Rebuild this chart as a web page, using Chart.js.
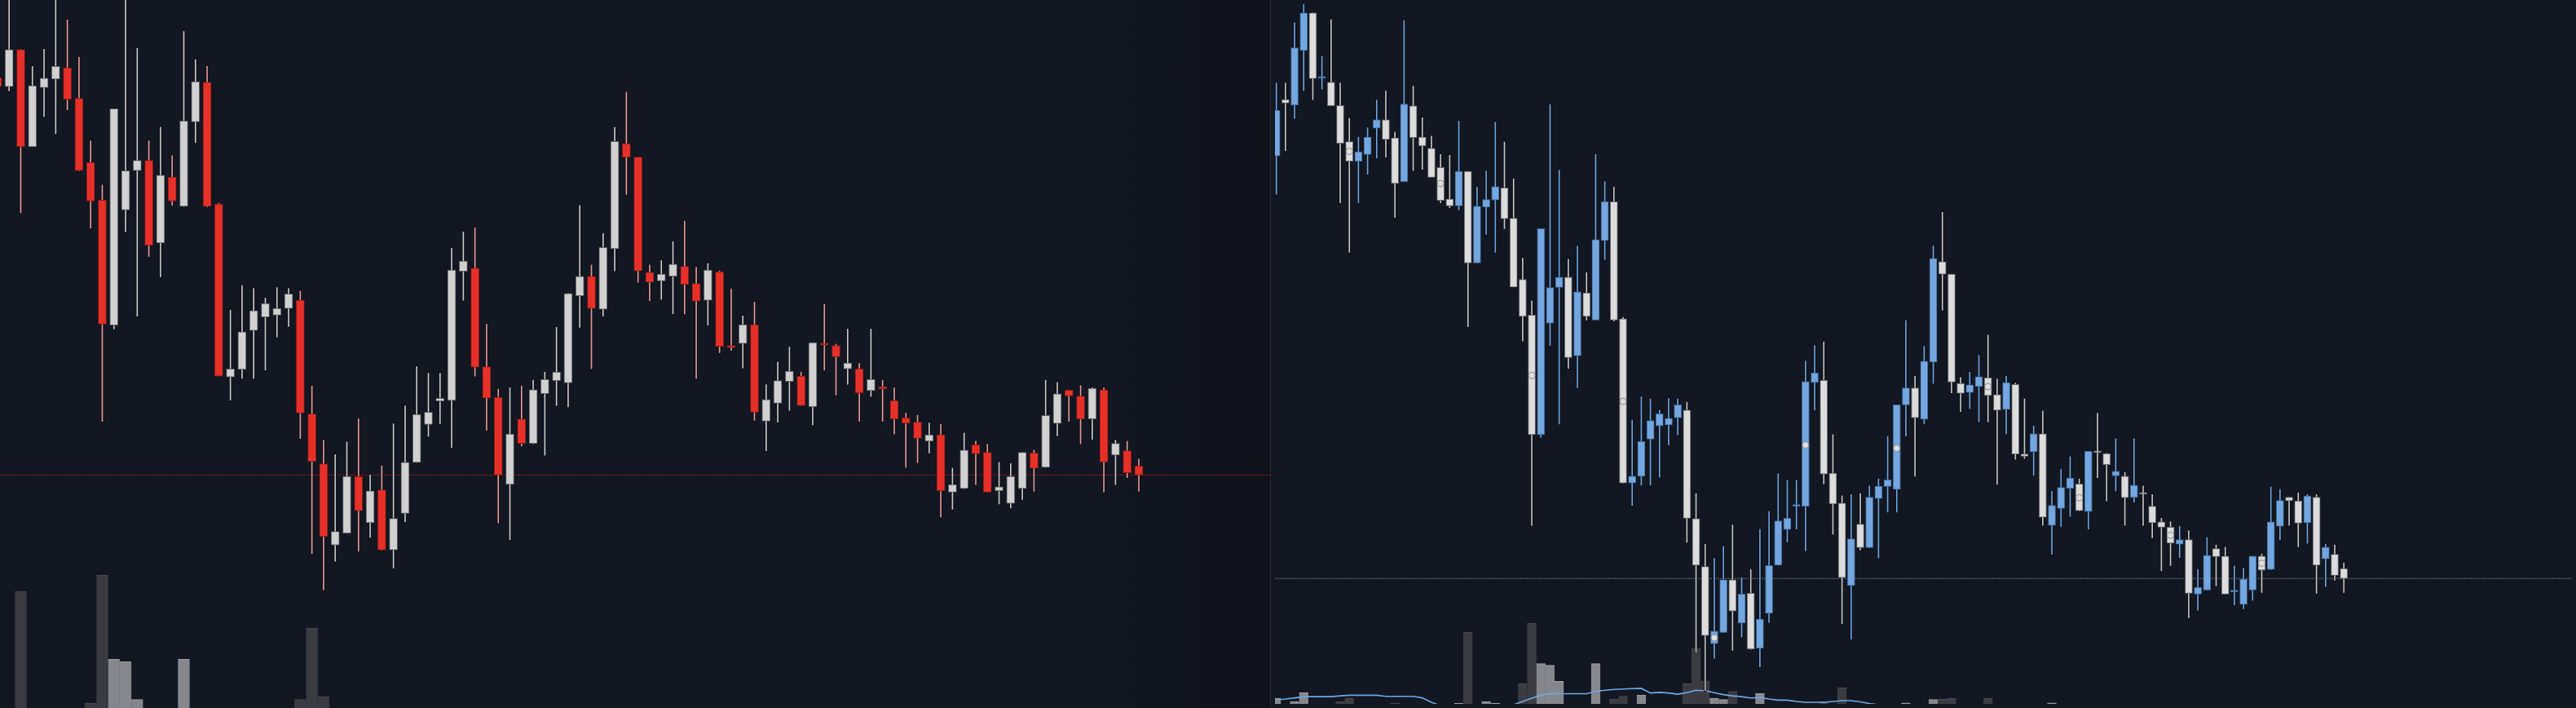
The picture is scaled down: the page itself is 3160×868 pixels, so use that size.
<!DOCTYPE html>
<html>
<head>
<meta charset="utf-8">
<script src="https://cdn.jsdelivr.net/npm/chart.js@4.4.1/dist/chart.umd.min.js"></script>
<style>
html,body{margin:0;padding:0;background:#131722;width:3160px;height:868px;overflow:hidden}
#leftPane{position:absolute;left:0;top:0;width:1558px;height:868px;background:linear-gradient(to right,#131722 0px,#131722 1380px,#0f121a 1558px)}
#divider{position:absolute;left:1558px;top:0;width:1px;height:868px;background:#262932}
#rightPane{position:absolute;left:1559px;top:0;width:1601px;height:868px;background:#131722}
canvas{display:block}
</style>
</head>
<body>
<div id="leftPane"><canvas id="leftChart" width="1558" height="868"></canvas></div>
<div id="divider"></div>
<div id="rightPane"><canvas id="rightChart" width="1601" height="868"></canvas></div>
<script>
// ---------------- LEFT PANEL DATA (candles 0..98) ----------------
const leftOpen = [1396,1376,1458,1243,1374,1393,1418,1350,1208,1125,
  848,1103,1190,1213,1030,1176,1111,1298,1386,1116,
  733,750,836,866,870,885,903,651,541,361,
  387,513,410,483,350,431,544,628,680,681,
  967,974,756,688,495,640,586,696,725,720,
  913,956,883,1017,1250,1220,965,946,956,978,
  940,903,966,803,807,849,635,675,723,735,
  667,808,803,751,751,703,711,681,643,633,
  591,605,478,486,583,566,481,453,486,565,
  533,630,704,691,640,705,560,570,536];
const leftHigh = [1403,1578,1460,1423,1461,1573,1526,1443,1258,1160,
  1329,1573,1463,1258,1288,1225,1500,1438,1423,1120,
  883,938,931,910,933,931,925,715,595,563,
  591,642,518,538,631,671,758,743,743,1020,
  1056,1065,852,708,711,715,728,746,845,920,
  1115,983,1053,1288,1366,1222,983,993,1035,1080,
  978,986,970,930,870,901,718,768,801,746,
  811,896,808,841,765,841,728,711,655,650,
  633,630,533,611,593,586,546,543,568,573,
  728,723,706,716,711,711,595,593,553];
const leftLow = [1368,1365,1095,1241,1308,1270,1323,1188,1061,633,
  838,1053,866,998,953,1111,1109,1250,1108,733,
  680,728,728,746,820,843,595,340,260,323,
  385,345,376,348,308,410,542,600,628,575,
  901,733,613,408,371,578,583,558,668,665,
  841,750,866,966,1135,941,900,903,871,871,
  728,846,785,790,751,635,568,631,657,668,
  625,746,691,715,633,688,633,605,531,541,
  563,421,438,484,493,476,450,441,460,478,
  531,601,633,583,593,476,493,508,478];
const leftClose = [1376,1458,1243,1378,1395,1421,1348,1190,1123,850,
  1327,1190,1213,1025,1180,1123,1300,1387,1111,735,
  751,833,880,896,885,917,653,546,380,391,
  513,437,481,350,420,544,650,655,686,970,
  990,755,686,516,607,586,705,728,744,918,
  956,885,1020,1255,1220,968,943,961,983,938,
  901,970,801,798,849,655,683,725,746,670,
  809,804,778,764,698,728,707,640,631,597,
  605,481,495,571,563,478,490,513,566,531,
  648,696,691,640,708,545,586,521,516];
const leftVolumeIndex = [2,8,9,10,11,12,16,26,27,28];
const leftVolumeValue = [1550,180,1750,720,690,225,720,225,1100,260];
const leftLastPrice = 516;

// ---------------- RIGHT PANEL DATA (candles 1..118) ----------------
const rightOpen = [1228,1354,1342,1464,1548,1402,1393,1341,1260,1216,
  1231,1290,1309,1268,1170,1340,1270,1245,1202,1131,
  1116,1193,988,1113,1129,1156,1088,951,871,603,
  853,933,956,780,921,860,1038,1125,863,495,
  510,593,623,625,641,658,415,308,135,160,
  278,181,248,125,203,311,391,443,443,720,
  725,517,450,265,403,350,460,487,481,670,
  708,638,766,991,963,718,698,711,731,693,
  660,716,560,565,605,400,438,483,493,431,
  566,561,511,510,463,472,443,408,396,358,
  368,246,255,348,331,251,223,255,331,301,
  398,463,455,406,463,325,335,303];
const rightHigh = [1393,1393,1528,1573,1550,1453,1535,1393,1314,1272,
  1293,1355,1375,1283,1533,1386,1315,1274,1233,1231,
  1308,1195,1160,1196,1305,1261,1178,1001,905,1067,
  1345,1198,998,1028,968,1233,1172,1160,868,638,
  690,685,660,686,685,678,473,360,328,355,
  403,285,303,393,433,518,503,503,770,805,
  813,605,468,471,473,490,506,601,672,861,
  736,803,1028,1103,965,733,745,783,828,730,
  736,721,685,625,658,478,528,556,506,568,
  653,563,596,521,596,490,471,418,410,400,
  390,303,375,358,353,311,306,333,338,488,
  483,465,475,471,471,360,358,318];
const rightLow = [1140,1238,1310,1372,1352,1376,1338,1121,1010,1121,
  1185,1221,1223,1088,1168,1193,1196,1178,1121,1110,
  1105,843,986,1050,1010,1063,932,811,398,595,
  801,625,750,706,858,858,994,856,493,443,
  488,488,506,578,601,360,113,28,100,158,
  118,148,120,81,180,309,361,390,341,656,
  491,378,178,143,343,348,325,428,428,598,
  508,625,716,880,695,653,660,630,630,490,
  603,546,548,510,398,333,395,418,431,390,
  505,453,475,398,450,398,370,296,308,326,
  191,208,253,263,244,220,211,230,248,299,
  366,398,350,358,246,261,275,248];
const rightClose = [1330,1346,1470,1548,1401,1404,1340,1256,1216,1237,
  1270,1309,1265,1166,1344,1269,1250,1180,1128,1116,
  1193,988,1115,1130,1159,1087,934,868,603,1065,
  933,956,776,923,868,1040,1125,860,495,510,
  588,635,650,640,670,416,311,153,163,278,
  208,246,123,190,310,410,416,445,722,742,
  515,448,283,370,350,463,488,502,670,708,
  641,768,998,963,721,696,715,733,691,658,
  720,560,555,605,418,445,485,506,433,566,
  563,536,521,462,490,470,406,396,360,368,
  248,261,333,330,246,255,280,331,300,408,
  456,455,405,466,311,351,288,281];
const rightVolumeIndex = [1,3,4,8,9,14,21,22,24,25,28,29,30,31,32,36,38,39,41,46,47,48,49,50,51,54,61,63,70,73,74,75,79,86];
const rightVolumeValue = [190,150,260,150,190,130,130,1010,150,130,370,1120,620,600,400,620,180,215,230,375,810,405,190,175,275,250,150,320,133,175,177,190,190,133];
const rightVolumeMA = [170,180,195,210,210,210,210,220,227,227,
  227,227,213,213,213,213,195,140,100,90,
  90,95,95,95,95,100,110,150,190,230,
  247,247,247,247,247,277,290,300,305,310,
  313,255,263,255,240,260,290,285,260,235,
  220,210,193,200,180,167,167,150,140,140,
  140,150,160,160,145,125,110,105,100,100,
  98,96,95,95,96,98,100,100,98,96,
  95,95,96,98,100,100,98,96,95,95,
  94,94,95,96,96,95,94,93,93,94,
  95,95,94,93,92,92,93,94,94,93,
  92,92,93,93,92,92,91,91];
const rightMarkerIndex = [9,19,29,39,49,59,69,79,89,99,109];
const rightMarkerPrice = [1238,1166,736,678,148,580,573,711,462,378,315];
const rightLastPrice = 281;

// ---------------- RENDERING ----------------
function buildPanel(canvasId, d, st) {
  const n = d.open.length;
  const idx = Array.from({length: n}, (_, k) => k + d.firstIndex);
  const isUp = k => d.close[k] >= d.open[k];
  const datasets = [];
  datasets.push({
    type: 'line', order: 10, yAxisID: 'y',
    data: [{x: st.xmin, y: d.last}, {x: st.xmax, y: d.last}],
    borderColor: st.lastLine, borderWidth: 1, borderDash: [2, 1],
    pointRadius: 0, clip: 0
  });
  datasets.push({
    type: 'bar', order: 9, yAxisID: 'yv', grouped: false, clip: 0,
    data: d.volIdx.map((x, k) => ({x: x, y: d.volVal[k]})),
    barThickness: st.volWidth,
    backgroundColor: c => isUp(c.raw.x - d.firstIndex) ? st.volUp : st.volDown,
    borderColor: c => isUp(c.raw.x - d.firstIndex) ? st.volUpTop : st.volDownTop,
    borderWidth: {top: 1, left: 0, right: 0, bottom: 0}, borderSkipped: false
  });
  if (d.ma) {
    datasets.push({
      type: 'line', order: 8, yAxisID: 'yv', clip: 0,
      data: d.ma.map((v, k) => ({x: idx[k], y: v})),
      borderColor: st.maColor, borderWidth: 1.6, pointRadius: 0, tension: 0
    });
  }
  datasets.push({
    type: 'bar', order: 2, yAxisID: 'y', grouped: false, clip: 0,
    data: idx.map((x, k) => ({x: x, y: [d.low[k], d.high[k]]})),
    barThickness: 3,
    backgroundColor: c => isUp(c.dataIndex) ? st.wickUp : st.wickDown,
    borderColor: '#0c0e13', borderWidth: 1, borderSkipped: false
  });
  datasets.push({
    type: 'bar', order: 1, yAxisID: 'y', grouped: false, clip: 0,
    data: idx.map((x, k) => ({x: x, y: [d.open[k], d.close[k]]})),
    barThickness: st.bodyWidth, minBarLength: 2,
    backgroundColor: c => isUp(c.dataIndex) ? st.bodyUp : st.bodyDown,
    borderColor: c => isUp(c.dataIndex) ? st.borderUp : st.borderDown,
    borderWidth: 1, borderSkipped: false
  });
  if (d.markIdx) {
    datasets.push({
      type: 'line', order: 0, yAxisID: 'y', showLine: false, clip: 0,
      data: d.markIdx.map((x, k) => ({x: x, y: d.markVal[k]})),
      pointRadius: 4, pointStyle: 'circle',
      pointBackgroundColor: '#dedede', pointBorderColor: '#8d8d8d', pointBorderWidth: 1
    });
  }
  new Chart(document.getElementById(canvasId), {
    type: 'bar',
    data: {datasets},
    options: {
      responsive: false, animation: false, events: [],
      layout: {padding: 0},
      plugins: {legend: {display: false}, tooltip: {enabled: false}},
      scales: {
        x: {type: 'linear', min: st.xmin, max: st.xmax, offset: false, display: false},
        y: {type: 'linear', min: 0, max: 1568, display: false},
        yv: {type: 'linear', min: 120, max: 8800, display: false}
      }
    }
  });
}

buildPanel('leftChart', {
  firstIndex: 0, open: leftOpen, high: leftHigh, low: leftLow, close: leftClose,
  volIdx: leftVolumeIndex, volVal: leftVolumeValue, last: leftLastPrice
}, {
  xmin: 0.217, xmax: 109.27, bodyWidth: 10, volWidth: 14.3,
  bodyUp: '#d1d1d1', borderUp: '#5e5e5e', bodyDown: '#e8302a', borderDown: '#8a1c16',
  wickUp: '#c9c9c9', wickDown: '#e39a96',
  volUp: '#86878c', volUpTop: '#a5a6aa', volDown: '#3b3c42', volDownTop: '#4e4f56',
  lastLine: '#8f1e1e'
});

buildPanel('rightChart', {
  firstIndex: 1, open: rightOpen, high: rightHigh, low: rightLow, close: rightClose,
  volIdx: rightVolumeIndex, volVal: rightVolumeValue, last: rightLastPrice,
  ma: rightVolumeMA, markIdx: rightMarkerIndex, markVal: rightMarkerPrice
}, {
  xmin: 0.849, xmax: 142.995, bodyWidth: 9, volWidth: 11.3,
  bodyUp: '#74a7df', borderUp: '#3e6a9b', bodyDown: '#dcdcdc', borderDown: '#6a6a6a',
  wickUp: '#6fa3dc', wickDown: '#c4c4c4',
  volUp: '#86878c', volUpTop: '#a5a6aa', volDown: '#3b3c42', volDownTop: '#4e4f56',
  lastLine: '#6a6e78', maColor: '#6fa8e0'
});
</script>
</body>
</html>
